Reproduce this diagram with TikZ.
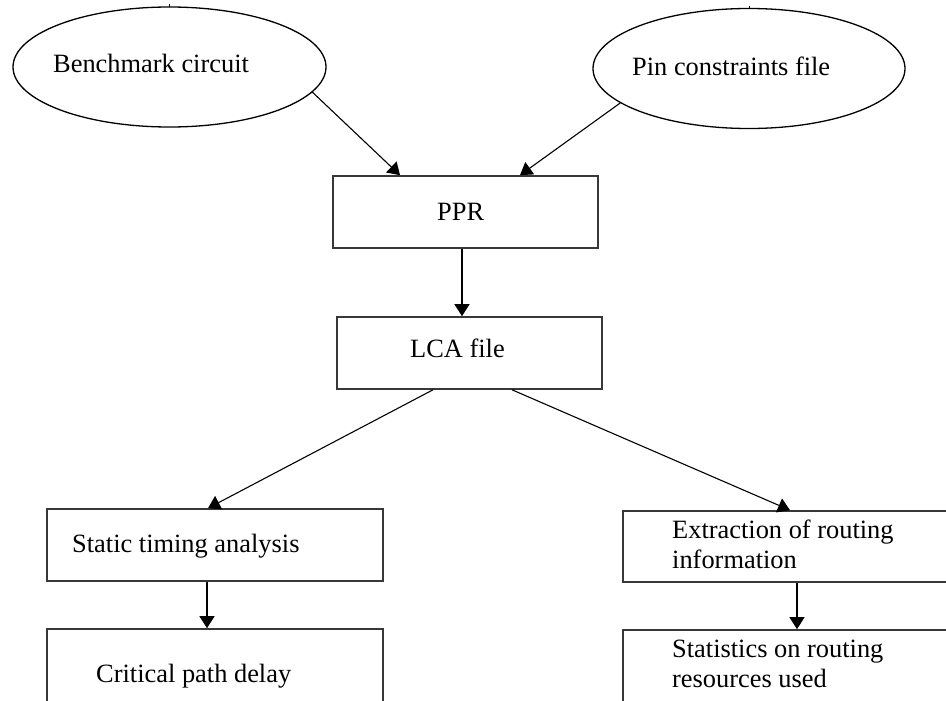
\documentclass[tikz,border=0pt]{standalone}
\usepackage{fontspec}
\setmainfont{Liberation Serif}
\usetikzlibrary{shapes.geometric,arrows.meta}
\tikzset{
  src/.style={ellipse, draw=black, line width=1.3pt, inner sep=0pt,
              minimum width=313pt, minimum height=120pt},
  stepbox/.style={rectangle, draw=black!78, line width=1.6pt, inner sep=0pt},
  lbl/.style={anchor=base west, inner sep=0pt, align=left,
              font=\fontsize{26.4}{30}\selectfont},
  flow/.style={draw=black, line width=1.1pt,
               -{Triangle[length=12pt,width=15pt]}},
}
\begin{document}
\begin{tikzpicture}[x=1pt,y=-1pt]
\useasboundingbox (0,0) rectangle (946,701);
\clip (0,0) rectangle (946,701);

% inputs
\node[src] (bench) at (169.5,67) {};
\node[src, minimum width=312pt] (pin) at (749,68.5) {};
\draw[line width=1pt] ([yshift=2pt]bench.north) -- ([yshift=-1pt]bench.north);
\draw[line width=1pt] ([yshift=2pt]pin.north) -- ([yshift=-1pt]pin.north);
\node[lbl] (bench-t) at (53,73) {Benchmark circuit};
\node[lbl] (pin-t) at (632,76) {Pin constraints file};

% processing steps
\node[stepbox, minimum width=265pt, minimum height=72pt] (ppr) at (465.5,212) {};
\node[lbl] (ppr-t) at (437,220) {PPR};
\node[stepbox, minimum width=265pt, minimum height=72pt] (lca) at (469.5,353) {};
\node[lbl] (lca-t) at (410,357) {LCA file};

% left branch
\node[stepbox, minimum width=336pt, minimum height=72pt] (sta) at (215,545) {};
\node[lbl] (sta-t) at (72,552) {Static timing analysis};
\node[stepbox, minimum width=336pt, minimum height=80pt] (cpd) at (215,669) {};
\node[lbl] (cpd-t) at (96,682) {Critical path delay};

% right branch (two-line labels: base anchor sits on the last line)
\node[stepbox, minimum width=337pt, minimum height=71pt] (ext) at (791.5,546.5) {};
\node[lbl] (ext-t) at (672,568) {Extraction of routing\\information};
\node[stepbox, minimum width=337pt, minimum height=80pt] (stat) at (791.5,670) {};
\node[lbl] (stat-t) at (672,687) {Statistics on routing\\resources used};

% connectors
\draw[flow] (bench.-10.3) -- ([xshift=-65.5pt]ppr.north);
\draw[flow] (pin.-165.1) -- ([xshift=54.5pt]ppr.north);
\draw[flow] ([xshift=-3.5pt]ppr.south) -- ([xshift=-7.5pt]lca.north);
\draw[flow] ([xshift=-36.5pt]lca.south) -- ([xshift=-7pt]sta.north);
\draw[flow] ([xshift=42.5pt]lca.south) -- ([xshift=-1.5pt]ext.north);
\draw[flow] ([xshift=-8pt]sta.south) -- ([xshift=-8pt]cpd.north);
\draw[flow] ([xshift=5.5pt]ext.south) -- ([xshift=5.5pt]stat.north);
\end{tikzpicture}
\end{document}
